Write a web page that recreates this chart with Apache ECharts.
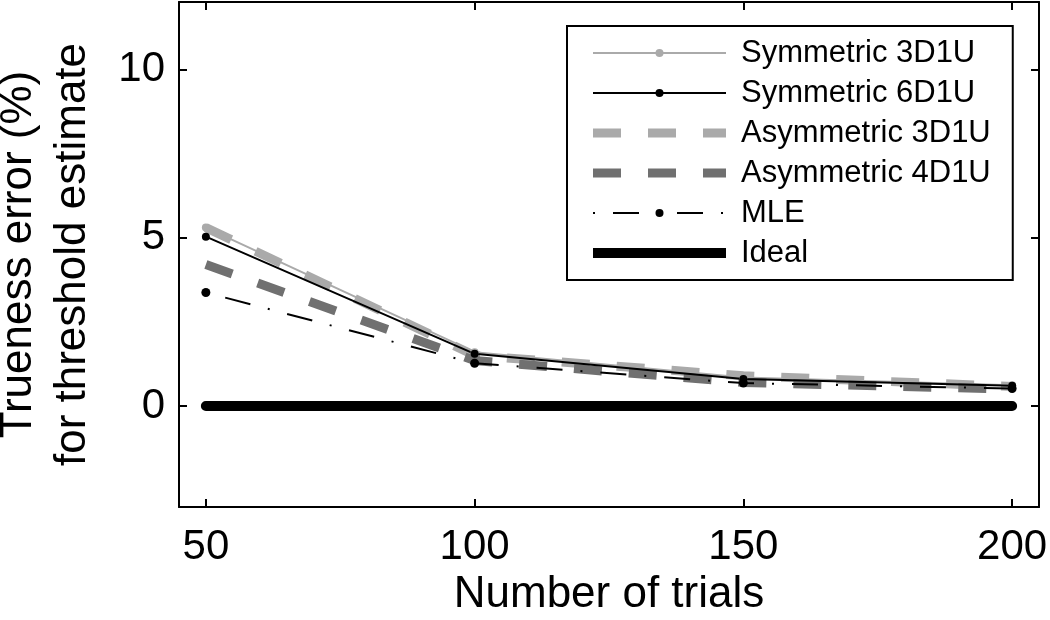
<!DOCTYPE html>
<html>
<head>
<meta charset="utf-8">
<script src="https://cdn.jsdelivr.net/npm/echarts@6/dist/echarts.min.js"></script>
<style>html,body{margin:0;padding:0;background:#fff;}#c{width:1050px;height:620px;}</style>
</head>
<body>
<div id="c"></div>
<script>
const trials = [50, 100, 150, 200];
const sym3 = [5.3, 1.6, 0.85, 0.62];
const sym6 = [5.03, 1.55, 0.8, 0.6];
const asym3 = [5.3, 1.5, 0.9, 0.58];
const asym4 = [4.2, 1.35, 0.7, 0.5];
const mle = [3.37, 1.27, 0.68, 0.52];
const ideal = [0, 0, 0, 0];
const xTicks = [50, 100, 150, 200];
const yTicks = [0, 5, 10];
const names = ['Symmetric 3D1U', 'Symmetric 6D1U', 'Asymmetric 3D1U', 'Asymmetric 4D1U', 'MLE', 'Ideal'];

const FONT = 'Liberation Sans, Arial, Helvetica, sans-serif';
const pair = arr => trials.map((t, i) => [t, arr[i]]);

const axisLine = { show: true, onZero: false, lineStyle: { color: '#000', width: 2 } };
const chart = echarts.init(document.getElementById('c'), null, { renderer: 'canvas' });
chart.setOption({
  animation: false,
  backgroundColor: '#fff',
  textStyle: { fontFamily: FONT },
  grid: { left: 179, top: 2, right: 11, bottom: 113, containLabel: false, outerBoundsMode: 'none' },
  xAxis: [
    { type: 'value', position: 'bottom', min: 45, max: 205,
      axisLine: axisLine,
      axisTick: { show: true, inside: true, length: 8, lineStyle: { color: '#000', width: 2 }, customValues: xTicks },
      axisLabel: { show: true, customValues: xTicks, color: '#000', fontSize: 42, fontFamily: FONT, margin: 19 },
      splitLine: { show: false },
      name: 'Number of trials', nameLocation: 'middle', nameGap: 63,
      nameTextStyle: { color: '#000', fontSize: 44, fontFamily: FONT } },
    { type: 'value', position: 'top', min: 45, max: 205,
      axisLine: axisLine,
      axisTick: { show: true, inside: true, length: 8, lineStyle: { color: '#000', width: 2 }, customValues: xTicks },
      axisLabel: { show: false }, splitLine: { show: false } }
  ],
  yAxis: [
    { type: 'value', position: 'left', min: -3, max: 12,
      axisLine: axisLine,
      axisTick: { show: true, inside: true, length: 8, lineStyle: { color: '#000', width: 2 }, customValues: yTicks },
      axisLabel: { show: true, customValues: yTicks, color: '#000', fontSize: 42, fontFamily: FONT, margin: 14 },
      splitLine: { show: false },
      name: 'Trueness error (%)\nfor threshold estimate', nameLocation: 'middle', nameGap: 79,
      nameTextStyle: { color: '#000', fontSize: 44, lineHeight: 54, fontFamily: FONT } },
    { type: 'value', position: 'right', min: -3, max: 12,
      axisLine: axisLine,
      axisTick: { show: true, inside: true, length: 8, lineStyle: { color: '#000', width: 2 }, customValues: yTicks },
      axisLabel: { show: false }, splitLine: { show: false } }
  ],
  legend: {
    orient: 'vertical', left: 567, top: 26,
    itemWidth: 133, itemHeight: 10, itemGap: 0,
    padding: [7, 22, 7, 21],
    borderColor: '#000', borderWidth: 2, backgroundColor: '#fff',
    textStyle: { color: '#000', fontSize: 31, lineHeight: 40, fontFamily: FONT, padding: [0, 0, 0, 10] },
    data: [
      { name: names[0], lineStyle: { width: 2 } },
      { name: names[1], lineStyle: { width: 2 } },
      { name: names[2], itemStyle: { opacity: 0 }, lineStyle: { width: 9, type: [28, 27], cap: 'butt' } },
      { name: names[3], itemStyle: { opacity: 0 }, lineStyle: { width: 9, type: [28, 27], cap: 'butt' } },
      { name: names[4], lineStyle: { width: 2, type: [2, 18, 26, 18] } },
      { name: names[5], itemStyle: { opacity: 0 }, lineStyle: { width: 10, cap: 'butt' } }
    ]
  },
  series: [
    { name: names[0], type: 'line', data: pair(sym3), symbol: 'circle', symbolSize: 8, showSymbol: true,
      lineStyle: { color: '#aaaaaa', width: 2 }, itemStyle: { color: '#aaaaaa' } },
    { name: names[2], type: 'line', data: pair(asym3), symbol: 'none',
      lineStyle: { color: '#aaaaaa', width: 9, type: [28, 27], cap: 'butt' }, itemStyle: { color: '#aaaaaa' } },
    { name: names[3], type: 'line', data: pair(asym4), symbol: 'none',
      lineStyle: { color: '#707070', width: 9, type: [28, 27], cap: 'butt' }, itemStyle: { color: '#707070' } },
    { name: names[1], type: 'line', data: pair(sym6), symbol: 'circle', symbolSize: 8, showSymbol: true,
      lineStyle: { color: '#000', width: 2 }, itemStyle: { color: '#000' } },
    { name: names[4], type: 'line', data: pair(mle), symbol: 'circle', symbolSize: 9, showSymbol: true,
      lineStyle: { color: '#000', width: 2, type: [2, 18, 26, 18] }, itemStyle: { color: '#000' } },
    { name: names[5], type: 'line', data: pair(ideal), symbol: 'none',
      lineStyle: { color: '#000', width: 10, cap: 'round' }, itemStyle: { color: '#000' } }
  ]
});
</script>
</body>
</html>
